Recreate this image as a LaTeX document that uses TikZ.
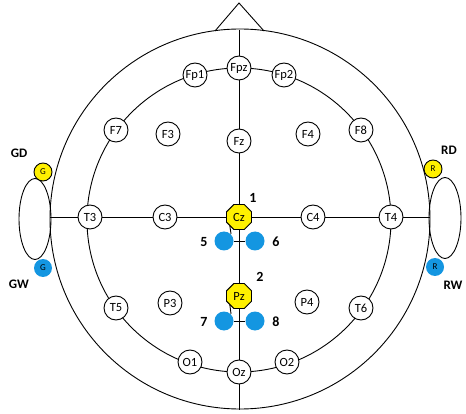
\documentclass[tikz,border=0pt]{standalone}
\usepackage{fontspec}
\setmainfont{Carlito}
\usetikzlibrary{shapes.geometric}
\definecolor{eyel}{RGB}{255,240,0}
\definecolor{eblue}{RGB}{20,150,225}
\begin{document}
\begin{tikzpicture}[x=1pt,y=-1pt,line width=0.9pt,
  el/.style={circle,draw,fill=white,minimum size=24pt,inner sep=0pt,font=\fontsize{12.5}{12.5}\selectfont},
  yel/.style={regular polygon,regular polygon sides=8,draw,fill=eyel,minimum size=27pt,inner sep=0pt,font=\fontsize{12.5}{12.5}\selectfont},
  bdot/.style={circle,fill=eblue,minimum size=19pt,inner sep=0pt},
  smy/.style={circle,draw,fill=eyel,minimum size=18pt,inner sep=0pt,font=\fontsize{9}{9}\selectfont},
  smb/.style={circle,fill=eblue,minimum size=18pt,inner sep=0pt,font=\fontsize{9}{9}\selectfont},
  num/.style={font=\bfseries\fontsize{14}{14}\selectfont,inner sep=0pt},
  lab/.style={font=\bfseries\fontsize{13}{13}\selectfont,inner sep=0pt},
  ear/.style={draw,ellipse,minimum width=32pt,minimum height=81pt,inner sep=0pt}]
\useasboundingbox (0,0) rectangle (466,414);
% head
\coordinate (hc) at (240,219);
\draw (hc) circle (190);
\coordinate (apex) at (239,3);
\coordinate (bl) at (215,31);
\coordinate (br) at (264,31);
\draw (bl) -- (apex) -- (br);
% ears
\node[ear] (earL) at (35,219) {};
\node[ear] (earR) at (445,218) {};
% axes
\coordinate (top) at (239,30);
\coordinate (bot) at (239,410);
\coordinate (lft) at (50,217);
\coordinate (rgt) at (430,217);
\draw (top) -- (bot);
\draw (lft) -- (rgt);
% inner circle
\draw (239,220) circle (152);
% electrodes
\node[el] (Fp1) at (195,75) {Fp1};
\node[el] (Fpz) at (239,68) {Fpz};
\node[el] (Fp2) at (284,75) {Fp2};
\node[el] (F7) at (116,130) {F7};
\node[el] (F3) at (168,134) {F3};
\node[el] (Fz) at (239,141) {Fz};
\node[el] (F4) at (308,134) {F4};
\node[el] (F8) at (361,130) {F8};
\node[el] (T3) at (90,217) {T3};
\node[el] (C3) at (165,217) {C3};
\node[el] (C4) at (313,217) {C4};
\node[el] (T4) at (391,217) {T4};
\node[el] (T5) at (116,308) {T5};
\node[el] (P3) at (170,303) {P3};
\node[el] (P4) at (307,302) {P4};
\node[el] (T6) at (361,308) {T6};
\node[el] (O1) at (190,362) {O1};
\node[el] (Oz) at (239,372) {Oz};
\node[el] (O2) at (287,362) {O2};
% reference/active electrodes
\node[bdot] (d5) at (224,241) {};
\node[bdot] (d6) at (255,241) {};
\node[bdot] (d7) at (224,321) {};
\node[bdot] (d8) at (255,321) {};
\draw (d5) -- (d6);
\draw (d7) -- (d8);
\node[yel] (Cz) at (239,217) {Cz};
\node[yel] (Pz) at (239,296) {Pz};
\draw (Cz.south west) -- (d5.north east);
\draw (Pz.south west) -- (d7.north east);
\node[num] (n1) at (253,198) {1};
\node[num] (n2) at (260,277) {2};
\node[num] (n5) at (204,242) {5};
\node[num] (n6) at (276,242) {6};
\node[num] (n7) at (204,322) {7};
\node[num] (n8) at (276,322) {8};
% ear electrodes
\node[smy] (GD) at (43,172) {G};
\node[smb] (GW) at (43,268) {G};
\node[smy] (RD) at (433,169) {R};
\node[smb] (RW) at (435,267) {R};
\node[lab] (lGD) at (19,153) {GD};
\node[lab] (lGW) at (19,284) {GW};
\node[lab] (lRD) at (449,150) {RD};
\node[lab] (lRW) at (453,285) {RW};
\end{tikzpicture}
\end{document}
